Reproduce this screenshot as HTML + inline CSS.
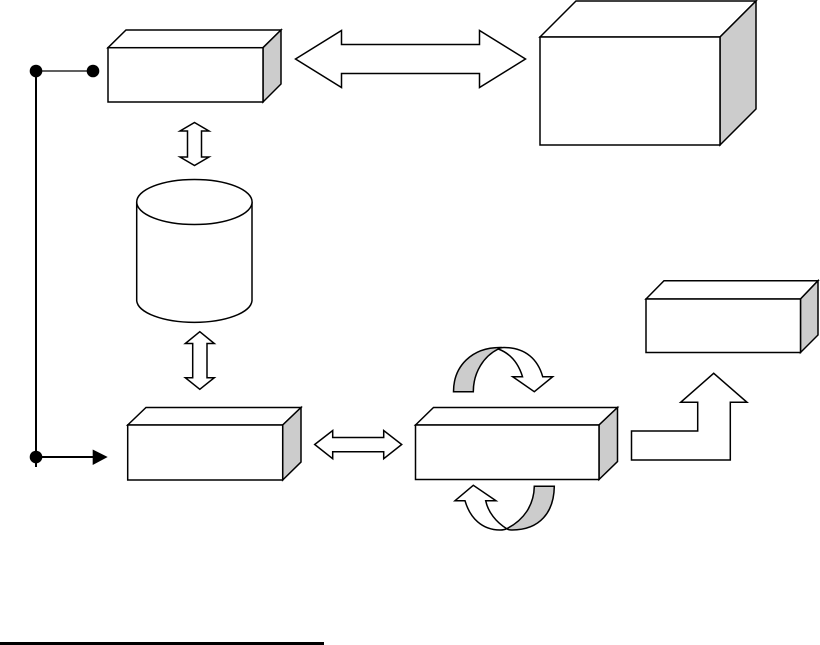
<!DOCTYPE html>
<html>
<head>
<meta charset="utf-8">
<style>
html,body{margin:0;padding:0;background:#fff;width:820px;height:645px;overflow:hidden}
svg{display:block}
.s{fill:#fff;stroke:#000;stroke-width:1.5;stroke-linejoin:miter;stroke-miterlimit:8}
.g{fill:#ccc;stroke:#000;stroke-width:1.5;stroke-linejoin:miter}
</style>
</head>
<body>
<svg width="820" height="645" viewBox="0 0 820 645" xmlns="http://www.w3.org/2000/svg">
<rect width="820" height="645" fill="#fff"/>

<!-- Box 1 -->
<polygon class="s" points="108,47.7 126,30 281,30 263,47.7"/>
<polygon class="g" points="263,47.7 281,30 281,84 263,102"/>
<rect class="s" x="108" y="47.7" width="155" height="54.3"/>

<!-- Big box -->
<polygon class="s" points="540,37 576,1 756,1 720,37"/>
<polygon class="g" points="720,37 756,1 756,109 720,145"/>
<rect class="s" x="540" y="37" width="180" height="108"/>

<!-- Wide double arrow -->
<polygon class="s" points="295.5,59 341.5,30.5 341.5,44.5 479.5,44.5 479.5,30.5 525.5,59 479.5,87.5 479.5,73.5 341.5,73.5 341.5,87.5"/>

<!-- Vertical double arrow 1 -->
<polygon class="s" points="194.5,122.5 209,131 201.5,131 201.5,157 209,157 194.5,165.5 180,157 187.5,157 187.5,131 180,131"/>

<!-- Cylinder -->
<path class="s" d="M136.7,202 L136.7,300.8 A57.7,22.5 0 0 0 252,300.8 L252,202"/>
<ellipse class="s" cx="194.4" cy="202" rx="57.7" ry="22.5"/>

<!-- Vertical double arrow 2 -->
<polygon class="s" points="199.8,331.7 214.3,343.5 207,343.5 207,377.7 214.3,377.7 199.8,389.3 185.3,377.7 192.7,377.7 192.7,343.5 185.3,343.5"/>

<!-- Box 2 -->
<polygon class="s" points="127.7,425 146,407.5 301,407.5 282.7,425"/>
<polygon class="g" points="282.7,425 301,407.5 301,462 282.7,480"/>
<rect class="s" x="127.7" y="425" width="155" height="55"/>

<!-- Horizontal small double arrow -->
<polygon class="s" points="314.7,444.5 332.7,430.5 332.7,437.5 383.7,437.5 383.7,430.5 401.7,444.5 383.7,458.7 383.7,451.7 332.7,451.7 332.7,458.7"/>

<!-- Box 3 -->
<polygon class="s" points="415.5,425 433.5,407.5 617.5,407.5 599,425"/>
<polygon class="g" points="599,425 617.5,407.5 617.5,461.5 599,479.5"/>
<rect class="s" x="415.5" y="425" width="183.5" height="54.5"/>

<!-- Box 4 -->
<polygon class="s" points="646,299 664,280.7 818,280.7 800.5,299"/>
<polygon class="g" points="800.5,299 818,280.7 818,335 800.5,352.5"/>
<rect class="s" x="646" y="299" width="154.5" height="53.5"/>

<!-- Bent arrow -->
<polygon class="s" points="631.5,431 697.7,431 697.7,402.3 680.7,402.3 713.7,373.3 747,402.3 730.3,402.3 730.3,460 631.5,460"/>

<!-- Top curved arrow -->
<path class="g" d="M453.5,391.7 C453.5,366 472,347.5 500,347.5 L498.3,349 C484,356 473.3,372 473.3,391.7 Z"/>
<path class="s" d="M498.3,349 C509,353 518,362 522.5,376.7 L512.7,376.7 L534.3,391.7 L552.7,376.7 L542.7,376.7 C538,360 526,347.5 504,347.5 C501,347.5 499.5,348 498.3,349 Z"/>

<!-- Bottom curved arrow -->
<path class="g" d="M554.3,486.3 L534.3,486.3 C534,505 524,520 506.7,528.7 C508,529.7 510,530 512,530 C540,530 554,512 554.3,486.3 Z"/>
<path class="s" d="M506.7,528.7 C496,522 488,512 485.7,500.7 L496,500.7 L473.3,485.3 L455,500.7 L465,500.7 C470,518 482,530 500,530 C503,530 505,529.7 506.7,528.7 Z"/>

<!-- Left connector -->
<line x1="36" y1="71" x2="36" y2="467" stroke="#000" stroke-width="2"/>
<line x1="36" y1="71" x2="93" y2="71" stroke="#000" stroke-width="1.2"/>
<circle cx="36" cy="71" r="6.3" fill="#000"/>
<circle cx="93" cy="71" r="6.3" fill="#000"/>
<circle cx="36" cy="457" r="6.3" fill="#000"/>
<line x1="36" y1="457" x2="94" y2="457" stroke="#000" stroke-width="2"/>
<polygon points="92.7,449.5 107.7,457 92.7,465" fill="#000"/>

<!-- Footnote rule -->
<rect x="0" y="642" width="324" height="3" fill="#000"/>
</svg>
</body>
</html>
